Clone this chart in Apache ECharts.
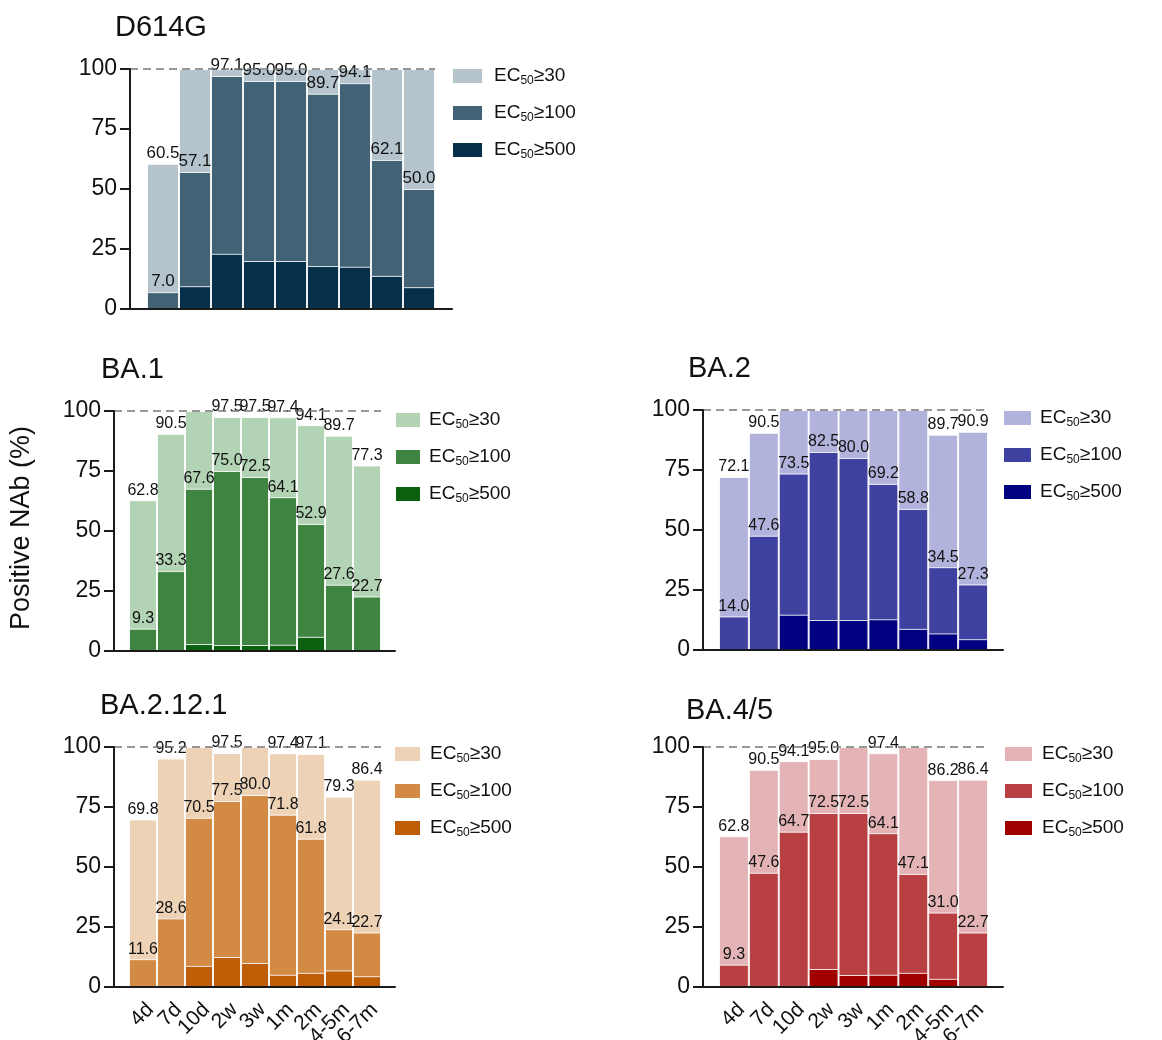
<!DOCTYPE html>
<html>
<head>
<meta charset="utf-8">
<script src="https://cdn.jsdelivr.net/npm/echarts@6/dist/echarts.min.js"></script>
<style>
body{margin:0;background:#fff;}
#main{width:1162px;height:1040px;}
</style>
</head>
<body>
<div id="main"></div>
<script>
var categories = ['4d','7d','10d','2w','3w','1m','2m','4-5m','6-7m'];

// D614G
var d614g30  = [60.5, 100, 100, 100, 100, 100, 100, 100, 100];
var d614g100 = [7.0, 57.1, 97.1, 95.0, 95.0, 89.7, 94.1, 62.1, 50.0];
var d614g500 = [0, 9.5, 23.0, 20.0, 20.0, 17.9, 17.6, 13.8, 9.1];
// BA.1
var ba1_30  = [62.8, 90.5, 100, 97.5, 97.5, 97.4, 94.1, 89.7, 77.3];
var ba1_100 = [9.3, 33.3, 67.6, 75.0, 72.5, 64.1, 52.9, 27.6, 22.7];
var ba1_500 = [0, 0, 2.9, 2.5, 2.5, 2.6, 5.9, 0, 0];
// BA.2
var ba2_30  = [72.1, 90.5, 100, 100, 100, 100, 100, 89.7, 90.9];
var ba2_100 = [14.0, 47.6, 73.5, 82.5, 80.0, 69.2, 58.8, 34.5, 27.3];
var ba2_500 = [0, 0, 14.7, 12.5, 12.5, 12.8, 8.8, 6.9, 4.5];
// BA.2.12.1
var ba2121_30  = [69.8, 95.2, 100, 97.5, 100, 97.4, 97.1, 79.3, 86.4];
var ba2121_100 = [11.6, 28.6, 70.5, 77.5, 80.0, 71.8, 61.8, 24.1, 22.7];
var ba2121_500 = [0, 0, 8.8, 12.5, 10.0, 5.1, 5.9, 6.9, 4.5];
// BA.4/5
var ba45_30  = [62.8, 90.5, 94.1, 95.0, 100, 97.4, 100, 86.2, 86.4];
var ba45_100 = [9.3, 47.6, 64.7, 72.5, 72.5, 64.1, 47.1, 31.0, 22.7];
var ba45_500 = [0, 0, 0, 7.5, 5.0, 5.1, 5.9, 3.4, 0];

var levels = ['≥30','≥100','≥500'];

var panels = [
	{name:'D614G', vals:[d614g30,d614g100,d614g500], colors:['#b4c3cc','#416375','#06304a'],
	 axisLeft:130, axisWidth:322, barLeft:147, barWidth:288, top:69, labelSize:17,
	 titleLeft:115, titleTop:13, legendLeft:453, legendTop:65, iconW:29, textGap:7, showX:false},
	{name:'BA.1', vals:[ba1_30,ba1_100,ba1_500], colors:['#b3d3b5','#3f8541','#0b6110'],
	 axisLeft:114, axisWidth:281, barLeft:129, barWidth:252, top:411, labelSize:16,
	 titleLeft:101, titleTop:355, legendLeft:396, legendTop:409, iconW:24, textGap:4, showX:false},
	{name:'BA.2', vals:[ba2_30,ba2_100,ba2_500], colors:['#b2b3dc','#3f41a0','#000080'],
	 axisLeft:703, axisWidth:300, barLeft:719, barWidth:269, top:410, labelSize:16,
	 titleLeft:688, titleTop:354, legendLeft:1004, legendTop:407, iconW:27, textGap:4, showX:false},
	{name:'BA.2.12.1', vals:[ba2121_30,ba2121_100,ba2121_500], colors:['#eed2b6','#d28a44','#c05e08'],
	 axisLeft:114, axisWidth:281, barLeft:129, barWidth:252, top:747, labelSize:16,
	 titleLeft:100, titleTop:691, legendLeft:395, legendTop:743, iconW:25, textGap:5, showX:true},
	{name:'BA.4/5', vals:[ba45_30,ba45_100,ba45_500], colors:['#e4b3b5','#b83f42','#a10000'],
	 axisLeft:703, axisWidth:300, barLeft:719, barWidth:269, top:747, labelSize:16,
	 titleLeft:686, titleTop:696, legendLeft:1005, legendTop:743, iconW:27, textGap:5, showX:true}
];

var FONT = 'Liberation Sans, Arial, sans-serif';

function labelFmt(p){
	return p.value < 100 ? p.value.toFixed(1) : '';
}

function buildOption(){
	var grid=[], xAxis=[], yAxis=[], series=[], legend=[], title=[];
	for(var i=0;i<panels.length;i++){
		var p=panels[i];
		var ag=i*2, bg=i*2+1;
		// axis grid: only draws the axes
		grid.push({left:p.axisLeft, top:p.top, width:p.axisWidth, height:240, outerBoundsMode:'none', containLabel:false});
		// bar grid
		grid.push({left:p.barLeft, top:p.top, width:p.barWidth, height:240, outerBoundsMode:'none', containLabel:false});

		xAxis.push({
			gridIndex:ag, type:'value', min:0, max:p.axisWidth, z:10,
			axisLine:{show:true, lineStyle:{color:'#1a1a1a', width:2}},
			axisTick:{show:false}, axisLabel:{show:false}, splitLine:{show:false}
		});
		xAxis.push({
			gridIndex:bg, type:'category', data:categories,
			axisLine:{show:false}, axisTick:{show:false},
			axisLabel:{show:p.showX, rotate:45, margin:12, fontSize:21, color:'#111',
				fontFamily:FONT, interval:0, verticalAlign:'top', hideOverlap:false},
			splitLine:{show:false}
		});
		yAxis.push({
			gridIndex:ag, type:'value', min:0, max:100, interval:25, z:10,
			axisLine:{show:true, lineStyle:{color:'#1a1a1a', width:2}},
			axisTick:{show:true, length:10, lineStyle:{color:'#1a1a1a', width:2}},
			axisLabel:{fontSize:23, color:'#111', margin:13, fontFamily:FONT},
			splitLine:{show:false}
		});
		yAxis.push({gridIndex:bg, type:'value', min:0, max:100, show:false});

		// dashed 100% reference line
		series.push({
			type:'line', xAxisIndex:ag, yAxisIndex:ag, data:[], z:1, silent:true,
			markLine:{
				silent:true, symbol:'none', animation:false,
				label:{show:false},
				lineStyle:{type:[8,5], color:'#777', width:1.5},
				data:[[{coord:[0,100]},{coord:[p.barLeft+p.barWidth-p.axisLeft,100]}]]
			}
		});

		var names=[];
		for(var k=0;k<3;k++){
			var nm=p.name+' EC50'+levels[k];
			names.push(nm);
			series.push({
				name:nm, type:'bar', xAxisIndex:bg, yAxisIndex:bg,
				data:p.vals[k], barGap:'-100%', barCategoryGap:'0%',
				itemStyle:{color:p.colors[k], borderColor:'rgba(255,255,255,0.85)', borderWidth:1},
				label:{
					show:k<2, position:'top', distance:2, formatter:labelFmt,
					fontSize:p.labelSize, color:'#111', fontFamily:FONT
				},
				emphasis:{disabled:true}
			});
		}

		legend.push({
			data:names, orient:'vertical', left:p.legendLeft, top:p.legendTop, padding:0,
			itemWidth:p.iconW, itemHeight:14, itemGap:15, icon:'rect',
			selectedMode:false,
			itemStyle:{borderWidth:0},
			formatter:function(name){
				var t=name.split('≥')[1];
				return '{e|EC}{s|50}{a|≥'+t+'}';
			},
			textStyle:{
				rich:{
					e:{fontSize:19, lineHeight:22, color:'#111', fontFamily:FONT, padding:[0,0,0,p.textGap]},
					s:{fontSize:12, lineHeight:12, color:'#111', fontFamily:FONT, padding:[10,0,0,0]},
					a:{fontSize:19, lineHeight:22, color:'#111', fontFamily:FONT}
				}
			}
		});

		title.push({
			text:p.name, left:p.titleLeft, top:p.titleTop, padding:0,
			textStyle:{fontSize:29, fontWeight:'normal', color:'#111', fontFamily:FONT}
		});
	}

	return {
		backgroundColor:'#fff',
		animation:false,
		title:title,
		legend:legend,
		grid:grid,
		xAxis:xAxis,
		yAxis:yAxis,
		series:series,
		graphic:[{
			type:'text', x:22, y:528, rotation:Math.PI/2,
			style:{text:'Positive NAb (%)', fontSize:27, fill:'#111', fontFamily:FONT,
				textAlign:'center', textVerticalAlign:'middle'}
		}]
	};
}

var myChart = echarts.init(document.getElementById('main'), null, {renderer:'canvas'});
myChart.setOption(buildOption());
</script>
</body>
</html>
